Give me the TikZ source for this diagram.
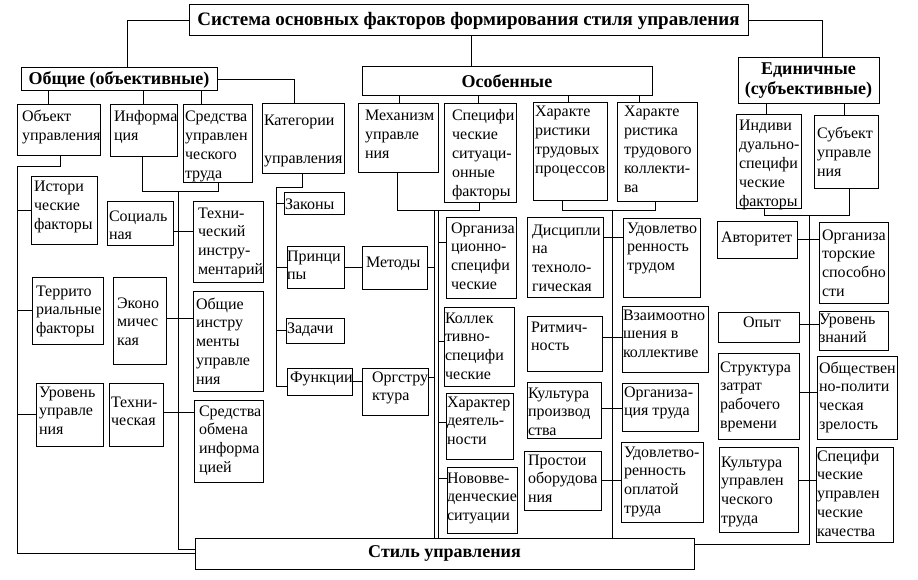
\documentclass[tikz,border=0pt]{standalone}
\usepackage{fontspec}
\setmainfont{Liberation Serif}
\tikzset{
  box/.style={draw, line width=1pt, inner sep=0pt, outer sep=0pt, anchor=north west},
  hdr/.style={draw, line width=1pt, inner sep=0pt, outer sep=0pt, anchor=north west,
    font=\fontsize{18}{20}\selectfont\bfseries, align=center},
  ln/.style={line width=1pt}
}
% name, x1, y1, x2, y2, left pad, first baseline, text
\newcommand\bx[8]{\node[box] (#1) at (#2,#3) {\parbox[c][\dimexpr#5pt-#3pt\relax][t]{\dimexpr#4pt-#2pt\relax}{\fontsize{16}{18.8}\selectfont\raggedright\leftskip=#6pt\relax\exhyphenpenalty=10000\hyphenpenalty=10000\rule{0pt}{#7pt}#8}};}
\begin{document}
\begin{tikzpicture}[x=1pt,y=-1pt]
\useasboundingbox[fill=white] (0,0) rectangle (918,580);
% headers
\node[hdr, minimum width=559pt, minimum height=31pt, font=\fontsize{19}{21}\selectfont\bfseries] (title) at (189,5) {Система основных факторов формирования стиля управления};
\node[hdr, minimum width=196pt, minimum height=23pt] (obsch) at (21,68) {Общие (объективные)};
\node[hdr, minimum width=290pt, minimum height=29pt] (osob) at (362,67) {Особенные};
\node[hdr, minimum width=141pt, minimum height=46pt] (ed) at (738,58) {Единичные\\(субъективные)};
\node[hdr, minimum width=499pt, minimum height=31pt] (stil) at (195,538) {Стиль управления};
% second level
\bx{obj}{17}{105}{100}{156}{5}{17}{Объект\\управления}
\bx{inf}{110}{105}{177}{157}{4}{17}{Информа\\ция}
\bx{sred}{183}{105}{252}{183}{2}{17}{Средства\\управлен\\ческого\\труда}
\bx{kat}{262}{104}{344}{174}{2}{22}{Категории\\[18.8pt]управления}
\bx{mech}{358}{104}{438}{173}{7}{17}{Механизм\\управле\\ния}
\bx{spec}{444}{104}{516}{203}{8}{17}{Специфи\\ческие\\ситуаци-\\онные\\факторы}
\bx{hartp}{533}{103}{607}{201}{2}{14}{Характе\\ристики\\трудовых\\процессов}
\bx{hartk}{617}{103}{697}{202}{7}{14}{Характе\\ристика\\трудового\\коллекти-\\ва}
\bx{ind}{736}{115}{801}{209}{3}{16}{Индиви\\дуально-\\специфи\\ческие\\факторы}
\bx{subj}{814}{116}{878}{189}{3}{23}{Субъект\\управле\\ния}
% left columns
\bx{ist}{31}{177}{97}{244}{3}{15}{Истори\\ческие\\факторы}
\bx{ter}{32}{277}{103}{344}{4}{19}{Террито\\риальные\\факторы}
\bx{urov}{36}{383}{103}{446}{3}{14}{Уровень\\управле\\ния}
\bx{soc}{107}{202}{173}{245}{2}{19}{Социаль\\ная}
\bx{eko}{113}{277}{166}{364}{4}{31}{Эконо\\мичес\\кая}
\bx{tekhn}{109}{383}{163}{446}{2}{24}{Техни-\\ческая}
\bx{tinstr}{193}{202}{263}{282}{5}{16}{Техни-\\ческий\\инстру-\\ментарий}
\bx{oinstr}{193}{291}{263}{391}{3}{18}{Общие\\инстру\\менты\\управле\\ния}
\bx{sobm}{194}{400}{263}{482}{5}{16}{Средства\\обмена\\информа\\цией}
% categories
\bx{zak}{284}{193}{344}{215}{1}{17}{Законы}
\bx{prin}{287}{246}{344}{288}{0}{15}{Принци\\пы}
\bx{met}{362}{246}{427}{289}{4}{21}{Методы}
\bx{zad}{286}{318}{344}{343}{1}{15}{Задачи}
\bx{fun}{287}{368}{352}{395}{3}{14}{Функции}
\bx{org}{362}{368}{428}{415}{10}{14}{Оргстру\\ктура}
% specific situational
\bx{orgsp}{446}{218}{516}{298}{5}{15}{Организа\\ционно-\\специфи\\ческие}
\bx{kolsp}{444}{307}{514}{386}{1}{16}{Коллек\\тивно-\\специфи\\ческие}
\bx{hard}{446}{393}{513}{459}{1}{14}{Характер\\деятель-\\ности}
\bx{novo}{447}{467}{517}{533}{0}{16}{Нововве-\\денческие\\ситуации}
% characteristics
\bx{disc}{527}{218}{603}{297}{5}{17}{Дисципли\\на\\техноло-\\гическая}
\bx{udtr}{623}{219}{700}{297}{4}{14}{Удовлетво\\ренность\\трудом}
\bx{ritm}{527}{316}{602}{371}{4}{16}{Ритмич-\\ность}
\bx{vzaim}{622}{306}{708}{372}{1}{14}{Взаимоотно\\шения в\\коллективе}
\bx{kultpr}{527}{382}{601}{438}{1}{16}{Культура\\производ\\ства}
\bx{orgtr}{622}{383}{698}{431}{2}{14}{Организа-\\ция труда}
\bx{prost}{524}{451}{601}{510}{4}{14}{Простои\\оборудова\\ния}
\bx{udopl}{621}{442}{703}{522}{3}{15}{Удовлетво-\\ренность\\оплатой\\труда}
% individual
\bx{avt}{717}{222}{797}{258}{4}{21}{Авторитет}
\bx{orgsp2}{819}{223}{888}{303}{3}{17}{Организа\\торские\\способно\\сти}
\bx{opyt}{718}{312}{799}{342}{25}{15}{Опыт}
\bx{urzn}{819}{311}{888}{350}{0}{13}{Уровень\\знаний}
\bx{strukt}{718}{353}{799}{439}{2}{19}{Структура\\затрат\\рабочего\\времени}
\bx{obsh}{817}{356}{897}{439}{2}{17}{Обществен\\но-полити\\ческая\\зрелость}
\bx{kultu}{719}{447}{798}{532}{2}{20}{Культура\\управлен\\ческого\\труда}
\bx{specu}{816}{447}{893}{542}{1}{14}{Специфи\\ческие\\управлен\\ческие\\качества}
% connectors: top level
\draw[ln] (title.west) -| (obsch.north -| 127,0);
\draw[ln] (title.east) -| (ed.north -| 822,0);
\draw[ln] (title.south -| 471,0) -- (osob.north -| 471,0);
\draw[ln] (obsch.south -| 48,0) -- (obj.north -| 48,0);
\draw[ln] (obsch.south -| 143,0) -- (inf.north -| 143,0);
\draw[ln] (obsch.south -| 201,0) -- (sred.north -| 201,0);
\draw[ln] (obsch.east) -| (kat.north -| 294,0);
\draw[ln] (osob.south -| 399,0) -- (mech.north -| 399,0);
\draw[ln] (osob.south -| 478,0) -- (spec.north -| 478,0);
\draw[ln] (osob.south -| 568,0) -- (hartp.north -| 568,0);
\draw[ln] (osob.south -| 639,0) -- (hartk.north -| 639,0);
\draw[ln] (ed.south -| 766,0) -- (ind.north -| 766,0);
\draw[ln] (ed.south -| 844,0) -- (subj.north -| 844,0);
% left branch
\coordinate (jL) at (17,167);
\draw[ln] (obj.south -| 60,0) |- (jL) |- (stil.west);
\draw[ln] (ist.west -| jL) -- (ist.west);
\draw[ln] (ter.west -| jL) -- (ter.west);
\draw[ln] (urov.west -| jL) -- (urov.west);
% information branch
\coordinate (jI) at (178,192);
\draw[ln] (inf.south -| 142,0) |- (218,192) -- (sred.south -| 218,0);
\draw[ln] (jI) |- (stil.west |- 0,549);
\draw[ln] (soc.east |- 0,231) -- (tinstr.west |- 0,231);
\draw[ln] (eko.east |- 0,318) -- (oinstr.west |- 0,318);
\draw[ln] (tekhn.east |- 0,412) -- (sobm.west |- 0,412);
% categories branch
\coordinate (jK) at (276,188);
\draw[ln] (kat.south -| 302,0) |- (jK) |- (fun.west |- 0,386);
\draw[ln] (zak.west -| jK) -- (zak.west);
\draw[ln] (prin.west -| jK) -- (prin.west);
\draw[ln] (zad.west -| jK) -- (zad.west);
\draw[ln] (prin.east) -- (met.west |- prin.east);
\draw[ln] (fun.east) -- (org.west |- fun.east);
\draw[ln] (met.east) -- (met.east -| 434,0);
\draw[ln] (org.east |- 0,377) -- (434,377);
% mechanism branch
\coordinate (jM) at (479,211);
\draw[ln] (mech.south -| 397,0) |- (jM) -- (spec.south -| jM);
\draw[ln] (434,211) -- (stil.north -| 434,0);
\draw[ln] (438,211) -- (stil.north -| 438,0);
\draw[ln] (438,242) -- (orgsp.west |- 0,242);
\draw[ln] (438,341) -- (kolsp.west |- 0,341);
\draw[ln] (438,422) -- (hard.west |- 0,422);
\draw[ln] (438,478) -- (novo.west |- 0,478);
% characteristics branch
\coordinate (jH) at (612,211);
\draw[ln] (hartp.south -| 562,0) |- (655,211) -- (hartk.south -| 655,0);
\draw[ln] (jH) -- (stil.north -| jH);
\draw[ln] (disc.east |- 0,237) -- (udtr.west |- 0,237);
\draw[ln] (ritm.east |- 0,337) -- (vzaim.west |- 0,337);
\draw[ln] (kultpr.east |- 0,408) -- (orgtr.west |- 0,408);
\draw[ln] (prost.east |- 0,480) -- (udopl.west |- 0,480);
% individual branch
\coordinate (jE) at (809,216);
\draw[ln] (ind.south -| 764,0) |- (849,216) -- (subj.south -| 849,0);
\draw[ln] (jE) |- (stil.east |- 0,544);
\draw[ln] (avt.east |- 0,239) -- (orgsp2.west |- 0,239);
\draw[ln] (opyt.east |- 0,324) -- (urzn.west |- 0,324);
\draw[ln] (strukt.east |- 0,392) -- (obsh.west |- 0,392);
\draw[ln] (kultu.east |- 0,480) -- (specu.west |- 0,480);
\end{tikzpicture}
\end{document}
